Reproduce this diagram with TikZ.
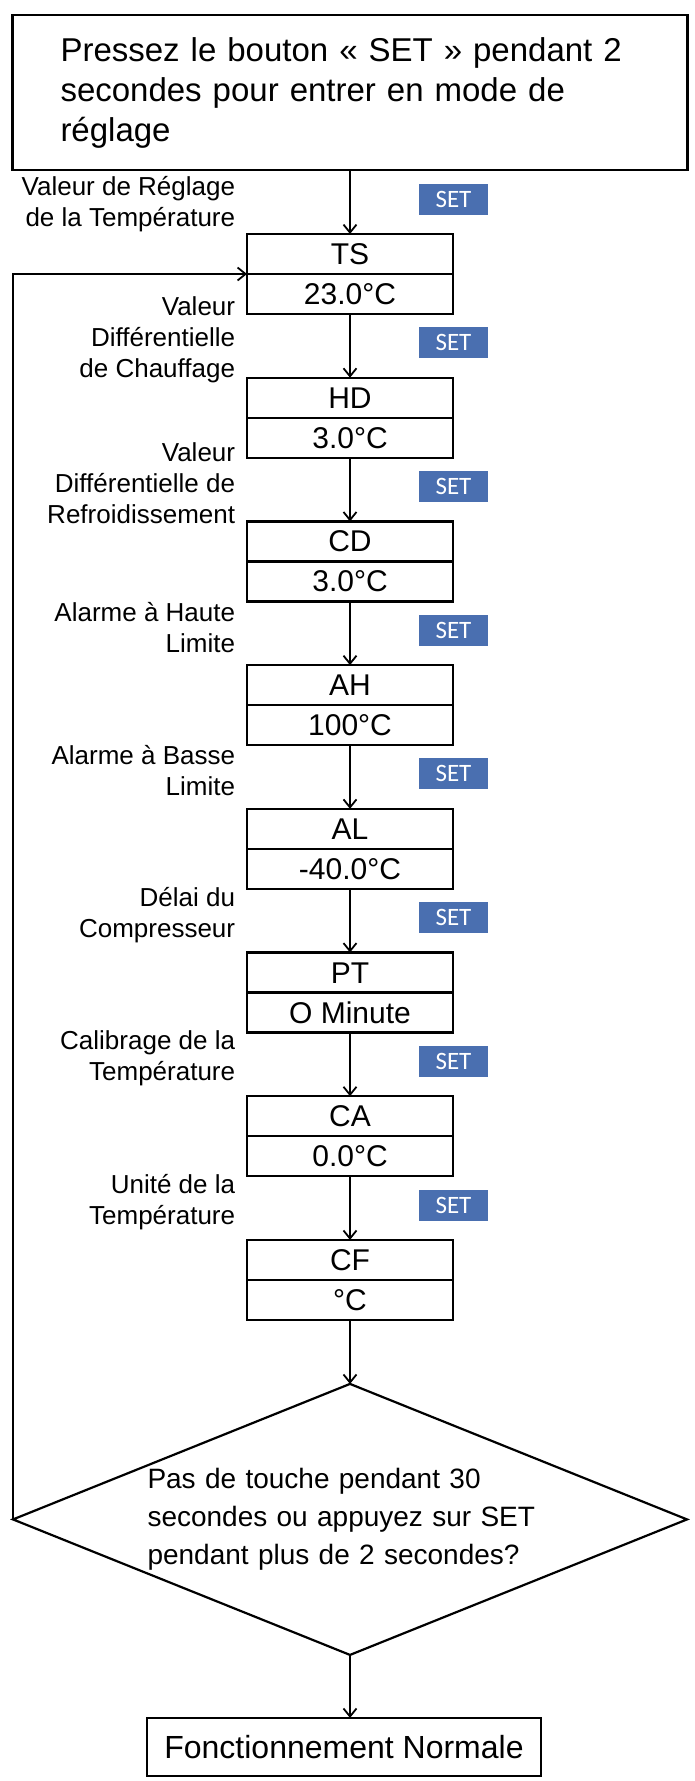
\documentclass[tikz,border=0pt]{standalone}
\usepackage{fontspec}
\setmainfont{Liberation Sans}
\newfontfamily\keyfont{Carlito}
\usetikzlibrary{positioning}
\usetikzlibrary{shapes.geometric}
\usetikzlibrary{arrows.meta}
\definecolor{setblue}{RGB}{74,111,176}
\newcommand{\cell}[1]{\rule[-9.5pt]{0pt}{40pt}#1}

\begin{document}
\begin{tikzpicture}
  [
    x=1pt,y=-1pt,
    node distance=63.7pt,
    param/.style={
      rectangle,
      draw,
      line width=2.2pt,
      inner sep=0pt,outer sep=0pt,
      minimum width=206pt,minimum height=80pt,
      align=center,
      font=\fontsize{30}{40}\selectfont,
      path picture={\draw[line width=2.2pt] (path picture bounding box.west) -- (path picture bounding box.east);}
    },
    note/.style={font=\fontsize{26}{31}\selectfont,align=right,inner sep=0pt,left=114pt,yshift=6pt},
    setkey/.style={fill=setblue,text=white,font=\keyfont\fontsize{25}{25}\selectfont,
      minimum width=69pt,minimum height=31pt,inner sep=0pt,xshift=103.5pt,yshift=3pt},
    flow/.style={line width=1.8pt,-{Straight Barb[length=8pt,width=13pt]}},
  ]
  \useasboundingbox (0,0) rectangle (695,1781);

  \node[draw,line width=2.2pt,minimum width=675pt,minimum height=155pt,
        text width=579pt,align=left,inner sep=0pt,outer sep=0pt,
        font=\fontsize{33}{40}\selectfont] (enter) at (350,92.5)
        {Pressez le bouton « SET » pendant 2\\secondes pour entrer en mode de\\réglage};

  \node[param,below=64pt of enter] (ts) {\cell{TS}\\\cell{23.0°C}};
  \node[param,below=of ts]         (hd) {\cell{HD}\\\cell{3.0°C}};
  \node[param,below=of hd]         (cd) {\cell{CD}\\\cell{3.0°C}};
  \node[param,below=of cd]         (ah) {\cell{AH}\\\cell{100°C}};
  \node[param,below=of ah]         (al) {\cell{AL}\\\cell{-40.0°C}};
  \node[param,below=of al]         (pt) {\cell{PT}\\\cell{O Minute}};
  \node[param,below=of pt]         (ca) {\cell{CA}\\\cell{0.0°C}};
  \node[param,below=of ca]         (cf) {\cell{CF}\\\cell{°C}};

  \node[diamond,draw,line width=2.2pt,aspect=2.49,inner sep=0pt,outer sep=0pt,
        minimum width=674pt,minimum height=271pt,text width=405pt,align=left,
        font=\fontsize{28}{38}\selectfont,below=64pt of cf] (quiet)
        {Pas de touche pendant 30\\secondes ou appuyez sur SET\\pendant plus de 2 secondes?};

  \node[draw,line width=2.2pt,minimum width=394pt,minimum height=58pt,outer sep=0pt,
        font=\fontsize{32}{32}\selectfont,below=63pt of quiet,xshift=-6pt] (normal)
        {Fonctionnement Normale};

  \draw[flow] (enter) --
      node[setkey,yshift=-0.5pt] {SET}
      node[note,yshift=-8pt] {Valeur de Réglage\\de la Température}
        (ts);
  \draw[flow] (ts) --
      node[setkey] {SET}
      node[note] {Valeur\\Différentielle\\de Chauffage}
        (hd);
  \draw[flow] (hd) --
      node[setkey] {SET}
      node[note] {Valeur\\Différentielle de\\Refroidissement}
        (cd);
  \draw[flow] (cd) --
      node[setkey] {SET}
      node[note] {Alarme à Haute\\Limite}
        (ah);
  \draw[flow] (ah) --
      node[setkey] {SET}
      node[note] {Alarme à Basse\\Limite}
        (al);
  \draw[flow] (al) --
      node[setkey] {SET}
      node[note] {Délai du\\Compresseur}
        (pt);
  \draw[flow] (pt) --
      node[setkey] {SET}
      node[note] {Calibrage de la\\Température}
        (ca);
  \draw[flow] (ca) --
      node[setkey] {SET}
      node[note] {Unité de la\\Température}
        (cf);
  \draw[flow] (cf) -- (quiet);
  \draw[flow] (quiet.south) -- (quiet.south |- normal.north);
  \draw[flow] (quiet.west) |- (ts.west);
\end{tikzpicture}
\end{document}
